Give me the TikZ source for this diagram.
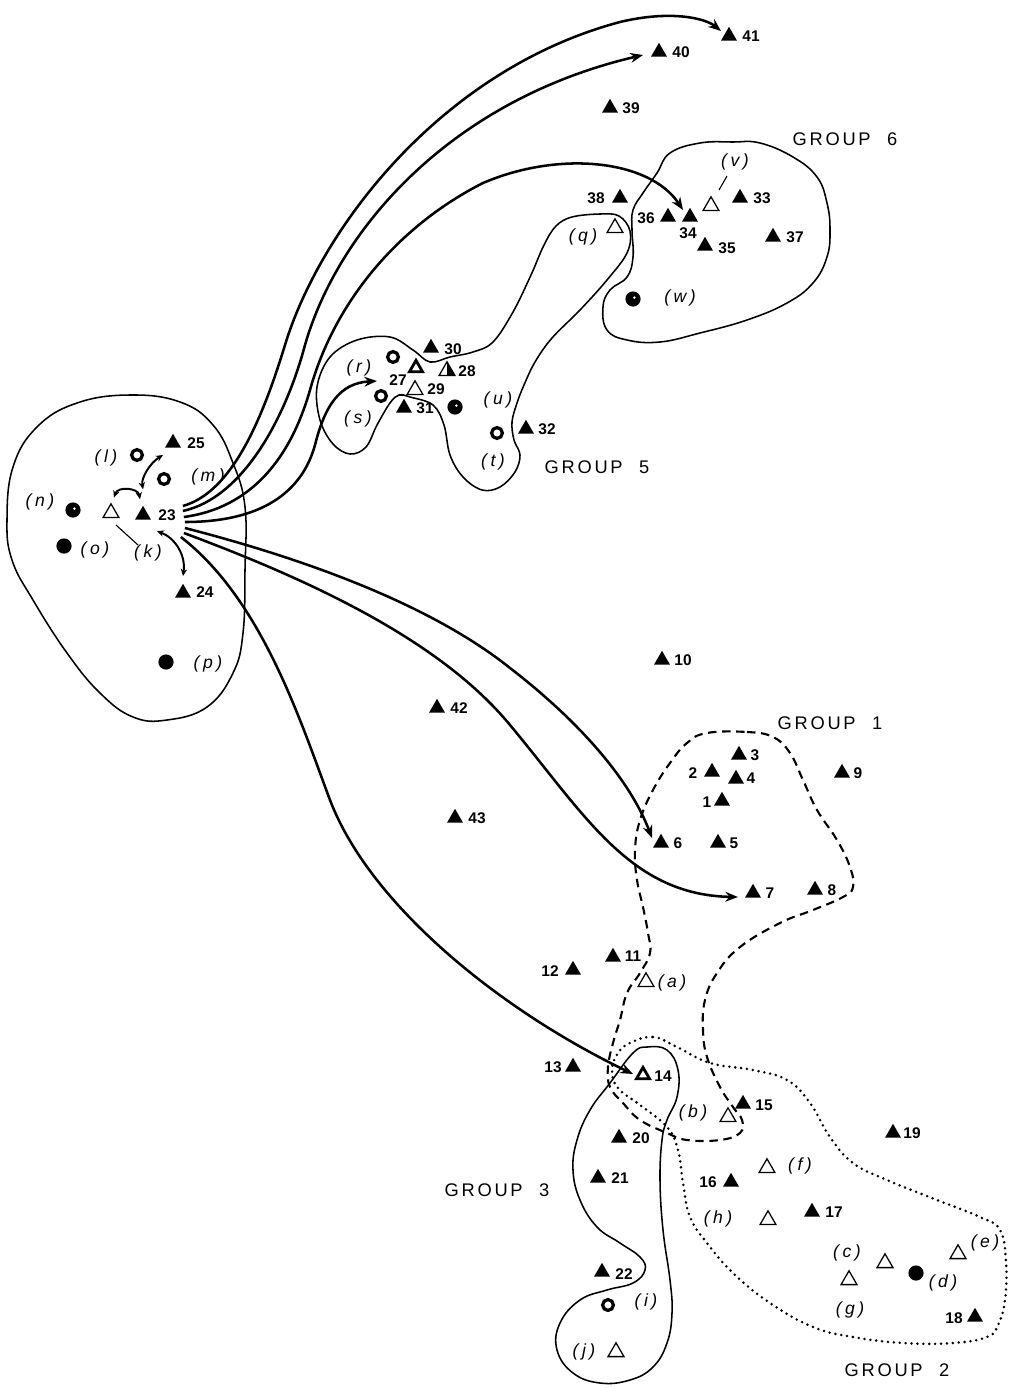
\documentclass[tikz,border=0pt]{standalone}
\usepackage{fontspec}
\setmainfont{Liberation Sans}
\usetikzlibrary{shapes.geometric,arrows.meta}
\begin{document}
\begin{tikzpicture}[x=0.025cm,y=-0.025cm,
 ftri/.style={regular polygon,regular polygon sides=3,fill=black,inner sep=0pt,minimum size=0.46cm},
 otri/.style={regular polygon,regular polygon sides=3,draw=black,fill=white,line width=0.9pt,inner sep=0pt,minimum size=0.46cm},
 ttri/.style={regular polygon,regular polygon sides=3,draw=black,fill=white,line width=2pt,inner sep=0pt,minimum size=0.38cm},
 htri/.style={otri,path picture={\fill[black] (path picture bounding box.south) -- (path picture bounding box.south east) -- (path picture bounding box.north) -- cycle;}},
 fcirc/.style={circle,fill=black,inner sep=0pt,minimum size=0.38cm},
 dcirc/.style={fcirc,path picture={\fill[white] ([shift={(1pt,1pt)}]path picture bounding box.center) circle (1pt);}},
 ring/.style={circle,draw=black,fill=white,line width=2.3pt,inner sep=0pt,minimum size=0.27cm},
 num/.style={inner sep=0pt,font=\fontsize{11}{13}\selectfont\bfseries},
 lett/.style={inner sep=0pt,font=\fontsize{12.5}{14}\selectfont\itshape\addfontfeatures{LetterSpace=20}},
 grp/.style={inner sep=0pt,font=\fontsize{13}{15}\selectfont\addfontfeatures{LetterSpace=15}},
 bnd/.style={line width=1.1pt},
 dbnd/.style={line width=1.5pt,dash pattern=on 6pt off 4pt},
 obnd/.style={line width=2pt,line cap=round,dash pattern=on 0pt off 4.2pt},
 fan/.style={line width=1.8pt,-{Stealth[length=9pt,width=7pt]}},
 sarr/.style={line width=1.4pt,{Stealth[length=5pt,width=4.5pt]}-{Stealth[length=5pt,width=4.5pt]}},
]
\fill[white] (0,0) rectangle (1016,1388);
\useasboundingbox (0,0) rectangle (1016,1388);

% ---------- group boundaries ----------
\draw[bnd] plot[smooth cycle,tension=0.7] coordinates {(7,520) (13,467) (37,427) (77,403) (130,395) (180,402) (213,425) (233,463) (245,507) (245,570) (243,633) (233,673) (207,707) (167,720) (133,717) (100,693) (67,653) (33,600) (12,560)};
\draw[bnd] plot[smooth cycle,tension=0.6] coordinates {(317,387) (330,357) (357,340) (390,337) (413,350) (430,362) (450,357) (473,352) (493,342) (513,312) (531,275) (544,245) (556,226) (572,217) (600,214) (619,216) (630,231) (627,253) (607,280) (580,310) (552,338) (535,362) (524,385) (517,403) (512,422) (514,440) (520,455) (515,472) (500,487) (482,490) (463,477) (450,455) (444,425) (433,405) (410,397) (399,395) (390,403) (377,425) (366,447) (350,454) (333,444) (320,420)};
\draw[bnd] plot[smooth cycle,tension=0.7] coordinates {(657,173) (670,153) (700,143) (733,142) (760,143) (793,157) (817,177) (827,203) (830,230) (827,257) (813,283) (787,303) (747,320) (700,333) (660,342) (627,340) (607,330) (603,307) (610,290) (627,277) (633,257) (632,230) (633,210) (643,193)};
\draw[dbnd] plot[smooth cycle,tension=0.7] coordinates {(707,733) (747,732) (773,737) (790,753) (803,780) (817,810) (837,840) (850,867) (853,887) (843,897) (813,910) (780,923) (740,947) (717,973) (705,1000) (703,1030) (707,1057) (720,1087) (733,1107) (742,1120) (740,1133) (720,1140) (687,1140) (667,1133) (640,1120) (623,1103) (610,1087) (608,1067) (613,1043) (620,1020) (627,993) (640,973) (650,953) (648,933) (643,907) (637,880) (635,850) (640,820) (653,790) (670,763) (687,743)};
\draw[obnd] plot[smooth cycle,tension=0.7] coordinates {(630,1043) (653,1037) (677,1047) (710,1063) (753,1070) (787,1080) (810,1103) (830,1137) (853,1163) (887,1180) (937,1200) (980,1217) (1000,1230) (1006,1262) (1005,1300) (998,1325) (987,1337) (953,1343) (903,1343) (853,1337) (813,1327) (770,1303) (733,1273) (707,1243) (690,1217) (683,1183) (678,1150) (667,1127) (640,1105) (618,1088) (612,1070) (618,1053)};
\draw[bnd] plot[smooth cycle,tension=0.7] coordinates {(633,1053) (647,1047) (667,1050) (678,1070) (677,1097) (667,1120) (662,1140) (660,1180) (663,1230) (670,1280) (672,1313) (667,1343) (653,1367) (630,1380) (600,1383) (573,1373) (557,1350) (560,1323) (580,1300) (607,1290) (633,1283) (645,1270) (640,1257) (620,1243) (597,1227) (580,1200) (573,1170) (577,1140) (590,1110) (610,1083)};

% ---------- markers and labels ----------
\node[ftri] (t41) at (729,36) {};   \node[num] (n41) at (751,36) {41};
\node[ftri] (t40) at (659,52) {};   \node[num] (n40) at (681,52) {40};
\node[ftri] (t39) at (610,108) {};  \node[num] (n39) at (631,108) {39};
\node[num] (n38) at (596,198) {38}; \node[ftri] (t38) at (620,198) {};
\node[num] (n36) at (646,218) {36}; \node[ftri] (t36) at (668,217) {};
\node[ftri] (t34) at (690,217) {};  \node[num] (n34) at (688,233) {34};
\node[otri] (tv) at (711,206) {};   \node[lett] (nv) at (735,162) {(v)};
\node[ftri] (t33) at (740,198) {};  \node[num] (n33) at (762,198) {33};
\node[ftri] (t35) at (705,246) {};  \node[num] (n35) at (727,248) {35};
\node[ftri] (t37) at (773,237) {};  \node[num] (n37) at (795,237) {37};
\node[lett] (nq) at (583,237) {(q)}; \node[otri] (tq) at (615,228) {};
\node[dcirc] (cw) at (633,299) {};  \node[lett] (nw) at (680,298) {(w)};
\node[grp] (g6) at (845,139) {GROUP\hspace{0.9em}6};

\node[ftri] (t30) at (431,348) {};  \node[num] (n30) at (453,349) {30};
\node[ring] (cr) at (393,357) {};   \node[lett] (nr) at (359,368) {(r)};
\node[ttri] (t27) at (416,368) {};  \node[num] (n27) at (398,380) {27};
\node[htri] (t28) at (447,371) {};  \node[num] (n28) at (467,371) {28};
\node[otri] (t29) at (415,390) {};  \node[num] (n29) at (436,389) {29};
\node[ring] (cs) at (381,396) {};   \node[lett] (ns) at (358,419) {(s)};
\node[ftri] (t31) at (404,408) {};  \node[num] (n31) at (425,408) {31};
\node[dcirc] (cu) at (455,407) {};  \node[lett] (nu) at (498,400) {(u)};
\node[ring] (ct) at (497,433) {};   \node[lett] (nt) at (493,462) {(t)};
\node[ftri] (t32) at (526,429) {};  \node[num] (n32) at (547,429) {32};
\node[grp] (g5) at (597,467) {GROUP\hspace{0.9em}5};

\node[ftri] (t25) at (173,443) {};  \node[num] (n25) at (196,443) {25};
\node[ring] (cl) at (137,455) {};   \node[lett] (nl) at (106,458) {(l)};
\node[ring] (cm) at (164,479) {};   \node[lett] (nm) at (208,477) {(m)};
\node[lett] (nn) at (40,502) {(n)}; \node[dcirc] (cn) at (73,510) {};
\node[otri] (tk) at (111,513) {};   \node[ftri] (t23) at (143,515) {};
\node[num] (n23) at (167,515) {23};
\node[fcirc] (co) at (64,546) {};   \node[lett] (no) at (95,550) {(o)};
\node[lett] (nk) at (148,553) {(k)};
\node[ftri] (t24) at (183,593) {};  \node[num] (n24) at (205,592) {24};
\node[fcirc] (cp) at (166,662) {};  \node[lett] (np) at (208,664) {(p)};

\node[ftri] (t10) at (662,660) {};  \node[num] (n10) at (683,660) {10};
\node[ftri] (t42) at (437,708) {};  \node[num] (n42) at (459,708) {42};
\node[ftri] (t43) at (455,818) {};  \node[num] (n43) at (477,818) {43};
\node[grp] (g1) at (830,723) {GROUP\hspace{0.9em}1};
\node[ftri] (t3) at (739,755) {};   \node[num] (n3) at (755,755) {3};
\node[num] (n2) at (693,773) {2};   \node[ftri] (t2) at (712,772) {};
\node[ftri] (t4) at (736,779) {};   \node[num] (n4) at (751,778) {4};
\node[num] (n1) at (707,802) {1};   \node[ftri] (t1) at (722,801) {};
\node[ftri] (t9) at (842,773) {};   \node[num] (n9) at (858,773) {9};
\node[ftri] (t6) at (661,843) {};   \node[num] (n6) at (678,843) {6};
\node[ftri] (t5) at (718,843) {};   \node[num] (n5) at (734,843) {5};
\node[ftri] (t7) at (753,893) {};   \node[num] (n7) at (770,893) {7};
\node[ftri] (t8) at (815,890) {};   \node[num] (n8) at (832,890) {8};
\node[ftri] (t11) at (613,957) {};  \node[num] (n11) at (633,956) {11};
\node[num] (n12) at (550,971) {12}; \node[ftri] (t12) at (573,970) {};
\node[otri] (ta) at (646,982) {};   \node[lett] (na) at (672,983) {(a)};

\node[num] (n13) at (553,1067) {13}; \node[ftri] (t13) at (573,1067) {};
\node[ttri] (t14) at (643,1075) {};  \node[num] (n14) at (663,1076) {14};
\node[ftri] (t15) at (743,1104) {};  \node[num] (n15) at (764,1105) {15};
\node[lett] (nb) at (693,1113) {(b)}; \node[otri] (tb) at (728,1117) {};
\node[ftri] (t20) at (619,1138) {};  \node[num] (n20) at (641,1138) {20};
\node[ftri] (t19) at (893,1133) {};  \node[num] (n19) at (912,1133) {19};
\node[ftri] (t21) at (598,1178) {};  \node[num] (n21) at (620,1178) {21};
\node[grp] (g3) at (497,1190) {GROUP\hspace{0.9em}3};
\node[num] (n16) at (708,1182) {16}; \node[ftri] (t16) at (731,1182) {};
\node[otri] (tf) at (767,1168) {};   \node[lett] (nf) at (800,1166) {(f)};
\node[lett] (nh) at (718,1219) {(h)}; \node[otri] (th) at (768,1220) {};
\node[ftri] (t17) at (812,1212) {};  \node[num] (n17) at (834,1212) {17};
\node[lett] (nc) at (847,1253) {(c)}; \node[otri] (tc) at (885,1263) {};
\node[fcirc] (cd) at (916,1273) {};  \node[lett] (nd) at (943,1283) {(d)};
\node[otri] (te) at (958,1254) {};   \node[lett] (ne) at (985,1243) {(e)};
\node[otri] (tg) at (849,1280) {};   \node[lett] (ng) at (850,1310) {(g)};
\node[num] (n18) at (954,1318) {18}; \node[ftri] (t18) at (975,1317) {};
\node[ftri] (t22) at (602,1272) {};  \node[num] (n22) at (624,1274) {22};
\node[ring] (ci) at (608,1305) {};   \node[lett] (ni) at (646,1302) {(i)};
\node[lett] (nj) at (584,1352) {(j)}; \node[otri] (tj) at (616,1352) {};
\node[grp] (g2) at (897,1370) {GROUP\hspace{0.9em}2};

% ---------- leader lines ----------
\draw[line width=0.8pt] ([shift={(5,12)}]tk.center) -- ([shift={(-10,-8)}]nk.center);
\draw[line width=0.8pt] ([shift={(8,-16)}]tv.center) -- ([shift={(-8,14)}]nv.center);

% ---------- short arrows near 23 ----------
\draw[sarr] ([shift={(-3,-6)}]t23.north) .. controls (138,488) and (118,486) .. ([shift={(3,-5)}]tk.north);
\draw[sarr] ([shift={(0,-16)}]t23.north) .. controls (141,478) and (150,463) .. ([shift={(-10,12)}]t25.center);
\draw[sarr] ([shift={(14,16)}]t23.center) .. controls (175,538) and (186,555) .. ([shift={(0,-17)}]t24.center);

% ---------- fan of arrows from 23 ----------
\draw[fan] ([shift={(7,-9)}]n23.east) .. controls (232,492) and (262,420) .. (285,345) .. controls (320,230) and (440,70) .. (620,22) .. controls (670,10) and (705,18) .. ([shift={(-8,-5)}]t41.center);
\draw[fan] ([shift={(7,-4)}]n23.east) .. controls (242,498) and (285,420) .. (305,345) .. controls (338,230) and (450,100) .. ([shift={(-16,3)}]t40.center);
\draw[fan] ([shift={(8,2)}]n23.east) .. controls (250,508) and (290,460) .. (310,390) .. controls (335,300) and (400,225) .. (483,183) .. controls (560,150) and (650,160) .. ([shift={(-7,-7)}]t34.center);
\draw[fan] ([shift={(9,7)}]n23.east) .. controls (262,522) and (302,492) .. (315,445) .. controls (325,405) and (340,383) .. ([shift={(-21,1)}]n27.center);
\draw[fan] ([shift={(9,13)}]n23.east) .. controls (290,555) and (425,600) .. (510,668) .. controls (580,722) and (630,780) .. ([shift={(-9,-5)}]t6.center);
\draw[fan] ([shift={(8,18)}]n23.east) .. controls (310,580) and (440,640) .. (510,725) .. controls (585,815) and (630,895) .. ([shift={(-15,4)}]t7.center);
\draw[fan] ([shift={(5,22)}]n23.east) .. controls (262,600) and (300,720) .. (330,800) .. controls (370,905) and (500,1010) .. ([shift={(-10,-1)}]t14.center);
\end{tikzpicture}
\end{document}
